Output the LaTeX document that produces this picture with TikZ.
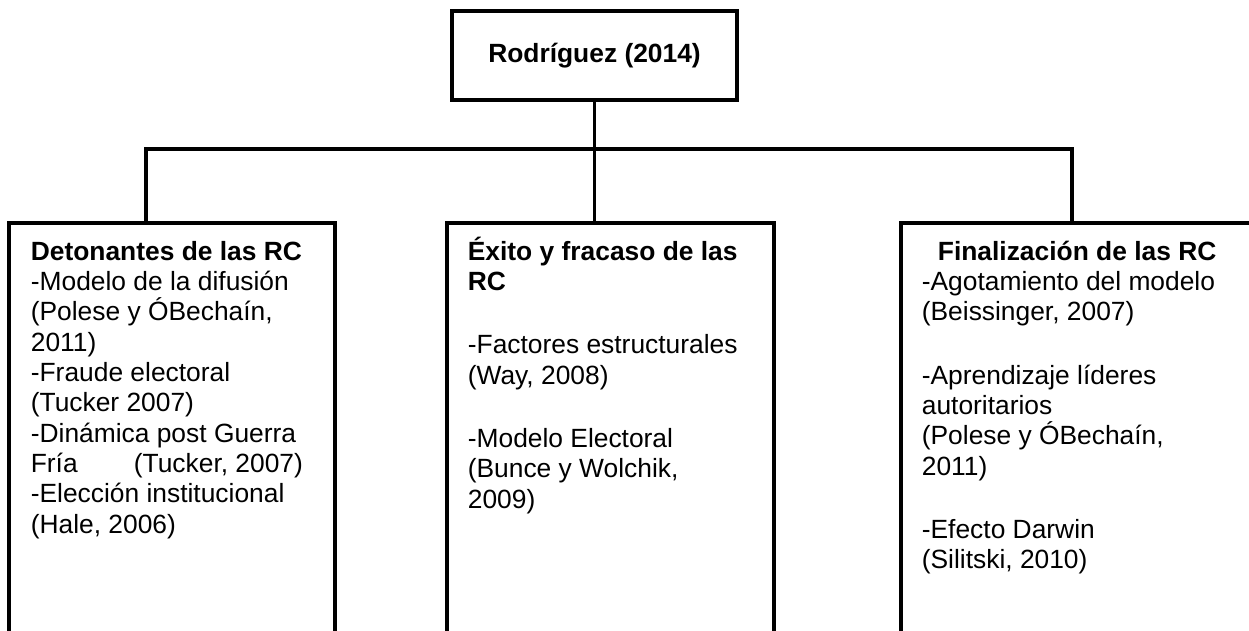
\documentclass[tikz,border=0pt]{standalone}
\usepackage{fontspec}
\setmainfont{Liberation Sans}
\usetikzlibrary{positioning,calc}
\def\pxlen{0.455pt}

\begin{document}
\begin{tikzpicture}
	[x=\pxlen,y=-\pxlen,
	caja/.style={draw=black,line width=1.45pt,inner sep=0pt},
	texto/.style={align=left,anchor=north west,inner sep=0pt},
	linea/.style={draw=black,line width=1.4pt},
	font=\fontsize{12pt}{13.8pt}\selectfont]
	\useasboundingbox (0,0) rectangle (1249,631);
	\clip (0,0) rectangle (1249,631);
	%%%%% TOP
	\node[caja,minimum width=285*\pxlen,minimum height=89*\pxlen] (raiz) at (594.5,55.5) {\textbf{Rodríguez (2014)}};
	%%%%% BOXES
	\foreach \nombre/\cx/\ancho in {detonantes/172/326,exito/610.5/327,finalizacion/1083/364}
	{
	\node[caja,minimum width=\ancho*\pxlen,minimum height=427*\pxlen] (\nombre) at (\cx,436.5) {};
	};
	%%%%% TEXTS
	\node[texto] (txtdet) at ([shift={(23,12)}]detonantes.north west)
	{\rule{0pt}{12pt}\textbf{Detonantes de las RC}\\
	-Modelo de la difusión\\
	(Polese y ÓBechaín,\\
	2011)\\
	-Fraude electoral\\
	(Tucker 2007)\\
	-Dinámica post Guerra\\
	\makebox[123.8pt][l]{Fría\hfill(Tucker, 2007)}\\
	-Elección institucional\\
	(Hale, 2006)};
	\node[texto] (txtexi) at ([shift={(22,12)}]exito.north west)
	{\rule{0pt}{12pt}\textbf{Éxito y fracaso de las}\\
	\textbf{RC}\\[15pt]
	-Factores estructurales\\
	(Way, 2008)\\[15pt]
	-Modelo Electoral\\
	(Bunce y Wolchik,\\
	2009)};
	\node[texto] (txtfin) at ([shift={(22,12)}]finalizacion.north west)
	{\rule{0pt}{12pt}\hspace*{7.3pt}\textbf{Finalización de las RC}\\
	-Agotamiento del modelo\\
	(Beissinger, 2007)\\[15pt]
	-Aprendizaje líderes\\
	autoritarios\\
	(Polese y ÓBechaín,\\
	2011)\\[15pt]
	-Efecto Darwin\\
	(Silitski, 2010)};
	%%%%% CONNECTORS
	\coordinate (barraizq) at (146,149);
	\coordinate (barrader) at (1072,149);
	\path[linea] (raiz.south) -- (raiz.south |- exito.north);
	\path[linea] (barraizq |- detonantes.north) -- (barraizq) -- (barrader) -- (barrader |- finalizacion.north);
\end{tikzpicture}
\end{document}
